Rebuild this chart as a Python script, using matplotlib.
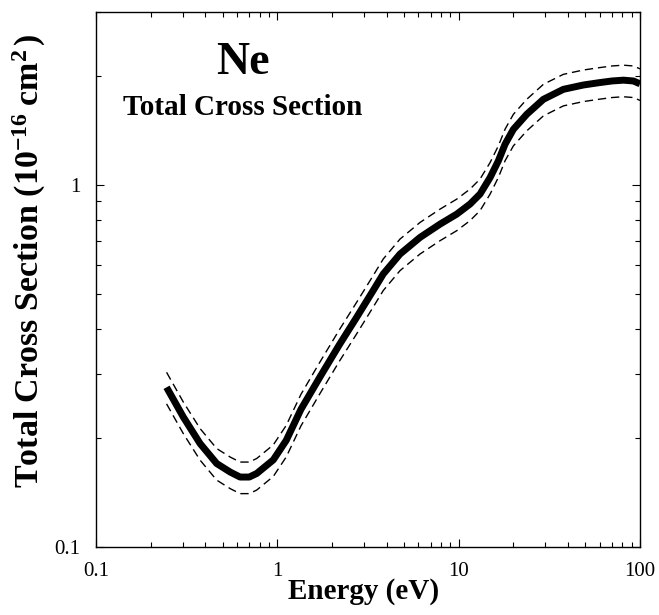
import matplotlib
matplotlib.use("Agg")
import matplotlib.pyplot as plt
from matplotlib.ticker import LogLocator, NullFormatter, FixedLocator, FixedFormatter

plt.rcParams['font.family'] = ['Liberation Serif', 'DejaVu Serif']
plt.rcParams['mathtext.fontset'] = 'custom'
plt.rcParams['mathtext.rm'] = 'Liberation Serif'
plt.rcParams['mathtext.bf'] = 'Liberation Serif:bold'
plt.rcParams['mathtext.it'] = 'Liberation Serif:italic'

# Data
energy = [0.245, 0.303, 0.375, 0.463, 0.55, 0.623, 0.70, 0.77, 0.95, 1.12,
          1.35, 1.72, 2.2, 2.74, 3.38, 3.84, 4.75, 6.13, 7.90, 9.76,
          11.56, 13.12, 14.90, 16.56, 18.03, 20.03, 23.75, 29.32, 37.8, 48.7,
          58.96, 70.0, 81.0, 92.0, 100.0]
sigma = [0.276, 0.2285, 0.193, 0.170, 0.161, 0.156, 0.156, 0.1596, 0.174, 0.197,
         0.240, 0.295, 0.362, 0.431, 0.511, 0.5675, 0.644, 0.716, 0.779, 0.830,
         0.885, 0.943, 1.047, 1.165, 1.295, 1.423, 1.566, 1.722, 1.835, 1.886,
         1.913, 1.935, 1.945, 1.935, 1.90]
rel_uncert = 0.10  # +/- 10 % band (dashed curves)
sigma_hi = [s * (1 + rel_uncert) for s in sigma]
sigma_lo = [s * (1 - rel_uncert) for s in sigma]

xticks = [0.1, 1, 10, 100]
xtick_labels = ['0.1', '1', '10', '100']
yticks = [0.1, 1]
ytick_labels = ['0.1', '1']

fig = plt.figure(figsize=(6.59, 6.15), dpi=100)
ax = fig.add_axes([96/659, 1 - 547/615, (640-96)/659, (547-12)/615])

ax.plot(energy, sigma, color='black', lw=5.0, solid_capstyle='butt',
        solid_joinstyle='round', zorder=3)
ax.plot(energy, sigma_hi, color='black', lw=1.0, dashes=(6, 3.5), zorder=2)
ax.plot(energy, sigma_lo, color='black', lw=1.0, dashes=(6, 3.5), zorder=2)

ax.set_xscale('log')
ax.set_yscale('log')
ax.set_xlim(0.1, 100)
ax.set_ylim(0.1, 3.0)

ax.xaxis.set_major_locator(FixedLocator(xticks))
ax.xaxis.set_major_formatter(FixedFormatter(xtick_labels))
ax.yaxis.set_major_locator(FixedLocator(yticks))
ax.yaxis.set_major_formatter(FixedFormatter(ytick_labels))
ax.xaxis.set_minor_locator(LogLocator(base=10, subs=range(2, 10), numticks=20))
ax.yaxis.set_minor_locator(LogLocator(base=10, subs=range(2, 10), numticks=20))
ax.xaxis.set_minor_formatter(NullFormatter())
ax.yaxis.set_minor_formatter(NullFormatter())

ax.tick_params(which='both', direction='in', top=True, right=True, width=0.8)
ax.tick_params(which='major', length=6)
ax.tick_params(which='minor', length=3.5)
ax.tick_params(axis='x', which='major', labelsize=15, pad=11)
ax.tick_params(axis='y', which='major', labelsize=15, pad=11)
for sp in ax.spines.values():
    sp.set_linewidth(1.0)

ax.set_xlabel('Energy (eV)', fontsize=21, fontweight='bold')
ax.xaxis.set_label_coords(0.491, -0.058)
ax.set_ylabel(r'Total Cross Section (10$^{\mathbf{-16}}\;$cm$^{\mathbf{2}}\,$)',
              fontsize=24.5, fontweight='bold')
ax.yaxis.set_label_coords(-0.088, 0.535)

ax.text(0.27, 0.884, 'Ne', transform=ax.transAxes, ha='center', va='baseline',
        fontsize=33, fontweight='bold')
ax.text(0.27, 0.8075, 'Total Cross Section', transform=ax.transAxes, ha='center',
        va='baseline', fontsize=21, fontweight='bold')

fig.savefig('out.png', dpi=100)
